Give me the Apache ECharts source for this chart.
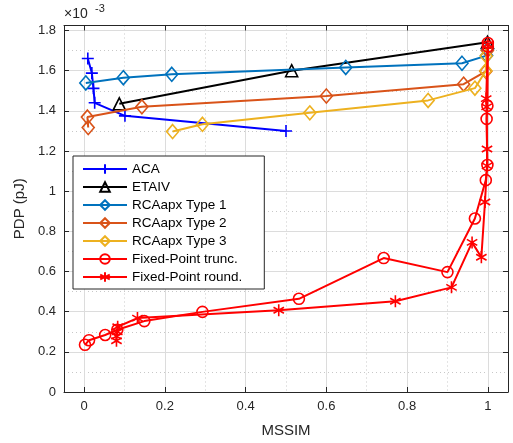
<!DOCTYPE html>
<html><head><meta charset="utf-8">
<script src="https://cdn.jsdelivr.net/npm/echarts@6/dist/echarts.min.js"></script>
<style>html,body{margin:0;padding:0;background:#fff}#c{width:513px;height:443px}</style>
</head><body><div id="c"></div>
<script>
// ---- data (PDP in units of 1e-3 pJ) ----
const names = ['ACA', 'ETAIV', 'RCAapx Type 1', 'RCAapx Type 2', 'RCAapx Type 3', 'Fixed-Point trunc.', 'Fixed-Point round.'];
const colors = ['#0000FF', '#000000', '#0072BD', '#D95319', '#EDB120', '#FF0000', '#FF0000'];

const acaX = [0.009, 0.019, 0.023, 0.026, 0.101, 0.500];
const acaY = [1.661, 1.588, 1.512, 1.440, 1.375, 1.300];

const etaX = [0.087, 0.514, 0.999];
const etaY = [1.435, 1.600, 1.742];

const rca1X = [0.004, 0.097, 0.217, 0.648, 0.936, 0.997, 0.999];
const rca1Y = [1.539, 1.565, 1.582, 1.616, 1.637, 1.675, 1.705];

const rca2X = [0.010, 0.008, 0.143, 0.600, 0.940, 0.995, 0.999];
const rca2Y = [1.317, 1.369, 1.420, 1.474, 1.533, 1.597, 1.700];

const rca3X = [0.219, 0.293, 0.559, 0.852, 0.968, 0.995, 0.996];
const rca3Y = [1.297, 1.333, 1.390, 1.452, 1.513, 1.600, 1.673];

const truncX = [0.002, 0.012, 0.052, 0.082, 0.149, 0.293, 0.532, 0.742, 0.900, 0.968, 0.995, 0.999, 0.997, 0.999, 1.000, 1.000];
const truncY = [0.235, 0.258, 0.284, 0.310, 0.353, 0.399, 0.464, 0.667, 0.597, 0.864, 1.055, 1.130, 1.360, 1.425, 1.720, 1.738];

const roundX = [0.080, 0.080, 0.082, 0.083, 0.132, 0.482, 0.771, 0.910, 0.961, 0.984, 0.993, 0.998, 0.998, 0.997, 0.996, 1.000];
const roundY = [0.255, 0.278, 0.300, 0.325, 0.368, 0.407, 0.452, 0.521, 0.745, 0.671, 0.946, 1.126, 1.210, 1.420, 1.461, 1.730];

const xTickLabels = ['0', '0.2', '0.4', '0.6', '0.8', '1'];
const yTickLabels = ['0', '0.2', '0.4', '0.6', '0.8', '1', '1.2', '1.4', '1.6', '1.8'];

// ---- build ----
const zip = (xs, ys) => xs.map((x, i) => [x, ys[i]]);
const dataSets = [zip(acaX, acaY), zip(etaX, etaY), zip(rca1X, rca1Y), zip(rca2X, rca2Y), zip(rca3X, rca3Y), zip(truncX, truncY), zip(roundX, roundY)];
const symbols = [
  'path://M0,-1L0,1M-1,0L1,0',
  'triangle',
  'diamond',
  'diamond',
  'diamond',
  'circle',
  'path://M0,-1L0,1M-0.866,-0.5L0.866,0.5M-0.866,0.5L0.866,-0.5'
];
const sizes = [12, 12, [12, 14], [12, 14], [12, 14], 11, 12];

const FONT = "'Liberation Sans', Arial, sans-serif";
const TXT = '#262626';

const series = names.map((n, i) => ({
  name: n,
  type: 'line',
  xAxisIndex: 0,
  yAxisIndex: 0,
  data: dataSets[i],
  symbol: symbols[i],
  symbolSize: sizes[i],
  symbolKeepAspect: true,
  showAllSymbol: true,
  color: colors[i],
  lineStyle: { color: colors[i], width: 2 },
  itemStyle: { color: 'rgba(255,255,255,0)', borderColor: colors[i], borderWidth: 1.6 },
  emphasis: { disabled: true },
  animation: false,
  z: 10 + i
}));

const chart = echarts.init(document.getElementById('c'), null, { renderer: 'canvas' });
chart.setOption({
  animation: false,
  backgroundColor: '#fff',
  textStyle: { fontFamily: FONT },
  grid: { left: 64, right: 5, top: 25.5, bottom: 45, containLabel: false },
  xAxis: [
    {
      type: 'value', position: 'bottom', min: -0.05, max: 1.05, splitNumber: 5,
      name: 'MSSIM', nameLocation: 'middle', nameGap: 31,
      nameTextStyle: { fontSize: 15, color: TXT, fontFamily: FONT },
      axisLine: { show: true, onZero: false, lineStyle: { color: TXT, width: 1 } },
      axisTick: { show: true, inside: true, length: 5, lineStyle: { color: TXT } },
      axisLabel: { show: true, showMinLabel: false, showMaxLabel: false, margin: 8, fontSize: 13, color: TXT, fontFamily: FONT,
        formatter: v => { const s = String(Math.round(v * 10) / 10); return xTickLabels.includes(s) ? s : ''; } },
      splitLine: { show: true, lineStyle: { color: '#dcdcdc', width: 1 } },
      z: 5
    },
    {
      type: 'value', position: 'top', min: -0.05, max: 1.05, splitNumber: 5,
      axisLine: { show: true, onZero: false, lineStyle: { color: TXT, width: 1 } },
      axisTick: { show: true, inside: true, length: 5, lineStyle: { color: TXT } },
      axisLabel: { show: false },
      splitLine: { show: false },
      z: 5
    },
    {
      type: 'value', position: 'bottom', min: -0.05, max: 1.05, splitNumber: 11,
      axisLine: { show: false }, axisTick: { show: false }, axisLabel: { show: false },
      splitLine: { show: true, lineStyle: { color: '#c8c8c8', width: 1, type: [1, 3] } },
      z: 1
    }
  ],
  yAxis: [
    {
      type: 'value', position: 'left', min: 0, max: 1.825, interval: 0.2,
      name: 'PDP (pJ)', nameLocation: 'middle', nameGap: 36,
      nameTextStyle: { fontSize: 15, color: TXT, fontFamily: FONT },
      axisLine: { show: true, onZero: false, lineStyle: { color: TXT, width: 1 } },
      axisTick: { show: true, inside: true, length: 5, lineStyle: { color: TXT } },
      axisLabel: { show: true, showMaxLabel: false, margin: 8, fontSize: 13, color: TXT, fontFamily: FONT,
        formatter: v => { const s = String(Math.round(v * 10) / 10); return yTickLabels.includes(s) ? s : ''; } },
      splitLine: { show: true, lineStyle: { color: '#dcdcdc', width: 1 } },
      z: 5
    },
    {
      type: 'value', position: 'right', min: 0, max: 1.825, interval: 0.2,
      axisLine: { show: true, onZero: false, lineStyle: { color: TXT, width: 1 } },
      axisTick: { show: true, inside: true, length: 5, lineStyle: { color: TXT } },
      axisLabel: { show: false },
      splitLine: { show: false },
      z: 5
    },
    {
      type: 'value', position: 'left', min: 0, max: 1.825, interval: 0.1,
      axisLine: { show: false }, axisTick: { show: false }, axisLabel: { show: false },
      splitLine: { show: true, lineStyle: { color: '#c8c8c8', width: 1, type: [1, 3] } },
      z: 1
    }
  ],
  legend: {
    show: true,
    data: names,
    orient: 'vertical',
    left: 73, top: 156,
    itemWidth: 44, itemHeight: 12, itemGap: 0,
    padding: [4, 22, 3, 9],
    backgroundColor: '#fff',
    borderColor: TXT, borderWidth: 1,
    textStyle: { fontSize: 13.5, color: '#000', fontFamily: FONT, lineHeight: 18 },
    selectedMode: false,
    z: 50
  },
  graphic: [
    { type: 'text', left: 64, top: 7, style: { text: '×10', fontSize: 14, fill: TXT, fontFamily: FONT }, z: 60 },
    { type: 'text', left: 95, top: 3, style: { text: '-3', fontSize: 11, fill: TXT, fontFamily: FONT }, z: 60 }
  ],
  series: series
});
</script>
</body></html>
